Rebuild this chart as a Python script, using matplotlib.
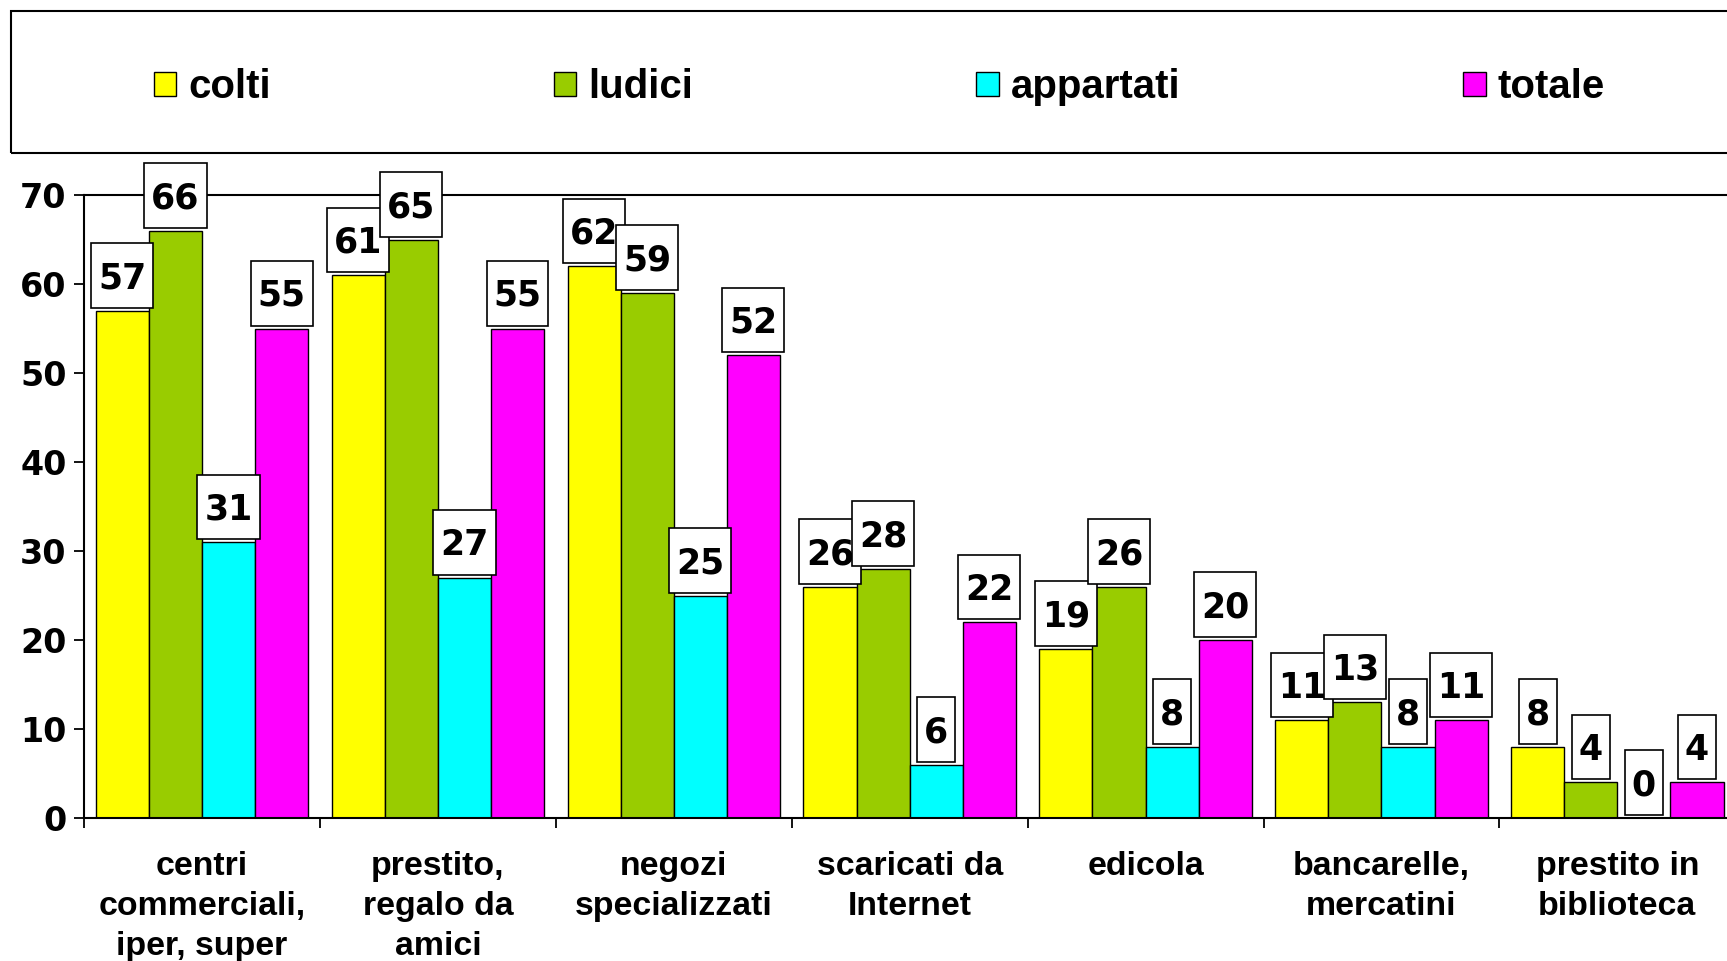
import numpy as np
import matplotlib.pyplot as plt
from matplotlib.patches import Rectangle
from matplotlib.path import Path

# data
categories = ["centri\ncommerciali,\niper, super", "prestito,\nregalo da\namici",
              "negozi\nspecializzati", "scaricati da\nInternet", "edicola",
              "bancarelle,\nmercatini", "prestito in\nbiblioteca"]
colti = [57, 61, 62, 26, 19, 11, 8]
ludici = [66, 65, 59, 28, 26, 13, 4]
appartati = [31, 27, 25, 6, 8, 8, 0]
totale = [55, 55, 52, 22, 20, 11, 4]

series_names = ["colti", "ludici", "appartati", "totale"]
series_vals = [colti, ludici, appartati, totale]
series_cols = ["#FFFF00", "#99CC00", "#00FFFF", "#FF00FF"]

W, H = 1727, 961
DPI = 100


def label_box(x0, y0, width, height, mutation_size):
    # white box, a bit taller than wide padding, like the excel labels
    px = 0.2 * mutation_size
    pb = 0.36 * mutation_size
    pt = 0.52 * mutation_size
    xa, xb = x0 - px, x0 + width + px
    ya, yb = y0 - pb, y0 + height + pt
    verts = [(xa, ya), (xb, ya), (xb, yb), (xa, yb), (xa, ya)]
    codes = [Path.MOVETO, Path.LINETO, Path.LINETO, Path.LINETO, Path.CLOSEPOLY]
    return Path(verts, codes)


fig = plt.figure(figsize=(W / DPI, H / DPI), dpi=DPI)
ax = fig.add_axes([84 / W, 143 / H, 7 * 235.9 / W, (818 - 195) / H])

x = np.arange(len(categories))
bw = 0.225
handles = []
for k, (name, vals, col) in enumerate(zip(series_names, series_vals, series_cols)):
    pos = x + (k - 1.5) * bw
    b = ax.bar(pos, vals, bw, color=col, edgecolor="black", linewidth=1.0,
               label=name, zorder=2)
    handles.append(b)

lab_size = 25
lab_px = lab_size * DPI / 72
for k, vals in enumerate(series_vals):
    pos = x + (k - 1.5) * bw
    for xi, v in zip(pos, vals):
        ax.annotate(str(v), xy=(xi, v), xytext=(0, 3 + 0.36 * lab_px),
                    textcoords="offset pixels", ha="center", va="bottom",
                    fontsize=lab_size, fontweight="bold", family="DejaVu Sans",
                    annotation_clip=False, zorder=5 + k,
                    bbox=dict(boxstyle=label_box, fc="white", ec="black", lw=1.2))

ax.set_xlim(-0.5, len(categories) - 0.5)
ax.set_ylim(0, 70)
ax.set_yticks(range(0, 71, 10))
ax.set_xticks(np.arange(len(categories) + 1) - 0.5)
ax.set_xticklabels([])
ax.set_xticks(x, minor=True)
ax.set_xticklabels(categories, minor=True, fontsize=24.4, fontweight="bold",
                   family="Liberation Sans", linespacing=1.37)
ax.tick_params(axis="x", which="major", direction="out", length=7, width=1.3)
ax.tick_params(axis="x", which="minor", length=0, pad=24)
ax.tick_params(axis="y", direction="out", length=7, width=1.3, pad=5.5)
for t in ax.get_yticklabels():
    t.set_fontsize(24)
    t.set_fontweight("bold")
    t.set_family("DejaVu Sans")
for s in ax.spines.values():
    s.set_linewidth(1.5)
    s.set_zorder(3)

# legend frame across the top
fig.patches.append(Rectangle((11 / W, 1 - 153 / H), 1.2, (153 - 11) / H,
                             transform=fig.transFigure, fill=False,
                             edgecolor="black", linewidth=1.5))
fig.legend(handles=handles, labels=series_names, ncol=4, loc="center left",
           bbox_to_anchor=(153.5 / W, 1 - 87.5 / H), frameon=False,
           prop=dict(family="Liberation Sans", weight="bold", size=29),
           handlelength=0.57, handleheight=0.55, handletextpad=0.3,
           columnspacing=7.01, borderpad=0, borderaxespad=0)

fig.savefig("out.png", dpi=DPI)
